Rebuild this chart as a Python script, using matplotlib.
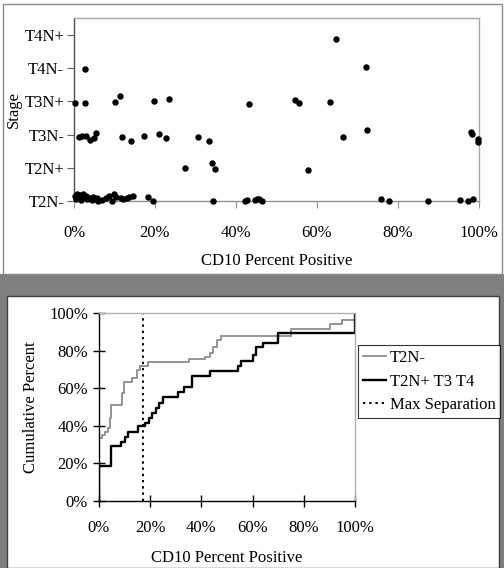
"""
CD10 percent positive by stage: scatter (top) and cumulative distribution (bottom)
"""
import matplotlib
matplotlib.use("Agg")
import matplotlib.pyplot as plt
from matplotlib.patches import Rectangle

plt.rcParams['font.family'] = ['Liberation Serif', 'DejaVu Serif']

# --- top panel: stage vs CD10 (y includes the jitter as drawn) ---
stage_labels = ['T2N-', 'T2N+', 'T3N-', 'T3N+', 'T4N-', 'T4N+']

scatter_x = [
    # T2N- cluster near 0-15%
    0.3, 0.5, 0.8, 1.2, 1.5, 1.8, 2.2, 2.6, 3.0, 3.3, 4.0, 4.5, 4.8, 5.2,
    5.6, 6.0, 7.0, 8.0, 8.6, 9.3, 9.8, 10.3, 11.5, 12.2, 13.0, 13.6, 14.5,
    # T2N- rest
    18.3, 19.4, 34.2, 42.3, 42.8, 44.8, 45.3, 45.8, 46.4, 75.7, 77.7, 87.3,
    95.3, 97.4, 98.4,
    # T2N+
    27.3, 34.1, 34.8, 57.9,
    # T3N-
    1.3, 1.9, 3.0, 3.9, 5.0, 5.5, 11.8, 14.1, 17.3, 21.0, 22.6, 30.5, 33.4,
    66.4, 72.3, 98.1, 98.3, 99.7, 99.8,
    # T3N+
    0.25, 2.8, 10.1, 11.3, 19.8, 23.5, 43.3, 54.5, 55.6, 63.3,
    # T4N-
    2.8, 72.0,
    # T4N+
    64.6,
]
scatter_y = [
    0.15, 0.05, 0.20, 0.10, 0.18, 0.03, 0.20, 0.12, 0.15, 0.06, 0.10, 0.02,
    0.12, 0.05, 0.08, 0.00, 0.02, 0.08, 0.14, 0.01, 0.20, 0.12, 0.10, 0.06,
    0.10, 0.12, 0.14,
    0.12, 0.00, 0.00, 0.00, 0.04, 0.02, 0.06, 0.05, 0.00, 0.06, 0.00, 0.00,
    0.03, 0.00, 0.05,
    0.98, 1.15, 0.96, 0.94,
    1.94, 1.96, 1.95, 1.83, 1.90, 2.06, 1.94, 1.82, 1.97, 2.01, 1.90, 1.92,
    1.82, 1.92, 2.13, 2.08, 2.03, 1.87, 1.78,
    2.94, 2.94, 2.97, 3.15, 3.01, 3.06, 2.91, 3.05, 2.94, 2.97,
    3.97, 4.02,
    4.87,
]

# --- bottom panel: cumulative percent step curves ---
t2n_x = [0, 0, 1.3, 2.3, 3.4, 4.3, 4.7, 8.9, 9.9, 12.8, 14.7, 16.0, 19.0,
         35.2, 41.4, 43.4, 44.7, 46.0, 47.7, 74.9, 90.2, 94.8, 100, 100]
t2n_y = [0, 33.3, 35.1, 36.9, 38.7, 44.0, 51.0, 57.3, 63.5, 65.3, 69.7,
         71.8, 73.9, 75.5, 76.8, 78.5, 82.0, 85.6, 87.9, 91.3, 94.0, 96.3,
         96.3, 100]

adv_x = [0, 0, 4.7, 8.6, 10.2, 11.5, 15.1, 18.0, 19.5, 20.8, 22.1, 23.4,
         25.1, 30.7, 33.3, 36.2, 43.4, 54.2, 55.5, 60.3, 61.2, 64.2, 70.0,
         100, 100]
adv_y = [0, 18.6, 29.3, 31.6, 34.2, 36.9, 39.9, 41.7, 44.0, 46.6, 49.3,
         52.0, 55.5, 58.2, 60.5, 66.5, 69.3, 72.0, 74.3, 77.7, 82.0, 84.2,
         89.4, 89.4, 100]

max_sep = 17.1
pct_ticks = [0, 20, 40, 60, 80, 100]
pct_labels = [f'{t}%' for t in pct_ticks]

W, H = 504, 568
fig = plt.figure(figsize=(W / 100, H / 100), dpi=100)


def fx(px):
    return px / W


def fy(py):
    return 1 - py / H


# panel backgrounds / borders
fig.patches.append(Rectangle((0, 0), 1, fy(274), transform=fig.transFigure,
                             facecolor='#7f7f7f', edgecolor='none', zorder=-3))
fig.patches.append(Rectangle((fx(7), 0), fx(492), fy(296), transform=fig.transFigure,
                             facecolor='white', edgecolor='#404040', lw=1.0, zorder=-2))
fig.patches.append(Rectangle((fx(2.5), fy(274)), fx(499), fy(4) - fy(274),
                             transform=fig.transFigure, facecolor='white',
                             edgecolor='#8a8a8a', lw=1.0, zorder=-2))

# ---------------- top scatter ----------------
ax1 = fig.add_axes([fx(74), fy(201), fx(479) - fx(74), fy(18) - fy(201)])
ax1.scatter(scatter_x, scatter_y, s=13, color='black', zorder=3, clip_on=False)
ax1.set_xlim(0, 100)
ax1.set_ylim(0, 5.51)
ax1.set_yticks(range(len(stage_labels)))
ax1.set_yticklabels(stage_labels, fontsize=12)
ax1.set_xticks(pct_ticks)
ax1.set_xticklabels(pct_labels, fontsize=12)
ax1.tick_params(axis='y', direction='out', length=5, width=0.8, color='#606060', pad=2)
ax1.tick_params(axis='x', direction='out', length=5, width=0.8, color='#909090', pad=12)
for side in ['top', 'right']:
    ax1.spines[side].set_color('#a8a8a8')
ax1.spines['left'].set_color('#505050')
ax1.spines['bottom'].set_color('#909090')
for sp in ax1.spines.values():
    sp.set_linewidth(1.0)
ax1.set_ylabel('Stage', fontsize=12, labelpad=2)
ax1.set_xlabel('CD10 Percent Positive', fontsize=12, labelpad=9)

# ---------------- bottom CDF ----------------
ax2 = fig.add_axes([fx(99), fy(501), fx(355) - fx(99), fy(313) - fy(501)])
l1, = ax2.step(t2n_x, t2n_y, where='post', color='#8c8c8c', lw=1.3, label='T2N-')
l2, = ax2.step(adv_x, adv_y, where='post', color='black', lw=1.7, label='T2N+ T3 T4')
l3 = ax2.axvline(max_sep, color='black', lw=1.4, linestyle=(0, (1.2, 2.0)),
                 label='Max Separation')
ax2.set_xlim(0, 100)
ax2.set_ylim(0, 100)
ax2.set_xticks(pct_ticks)
ax2.set_xticklabels(pct_labels, fontsize=12)
ax2.set_yticks(pct_ticks)
ax2.set_yticklabels(pct_labels, fontsize=12)
ax2.tick_params(direction='inout', length=8, width=1.0, color='black')
ax2.tick_params(axis='x', pad=10)
ax2.tick_params(axis='y', pad=4)
ax2.spines['top'].set_color('#b0b0b0')
ax2.spines['right'].set_color('#b0b0b0')
for sp in ax2.spines.values():
    sp.set_linewidth(1.0)
ax2.set_ylabel('Cumulative Percent', fontsize=12, labelpad=7)
ax2.set_xlabel('CD10 Percent Positive', fontsize=12, labelpad=10)

leg = fig.legend(handles=[l1, l2, l3], loc='upper left',
                 bbox_to_anchor=(fx(358), fy(345)), fontsize=12, frameon=True,
                 fancybox=False, edgecolor='black', handlelength=1.4,
                 handletextpad=0.2, labelspacing=0.45, borderpad=0.3,
                 borderaxespad=0)
leg.get_frame().set_linewidth(0.8)

plt.savefig('out.png', dpi=100)
plt.close()
